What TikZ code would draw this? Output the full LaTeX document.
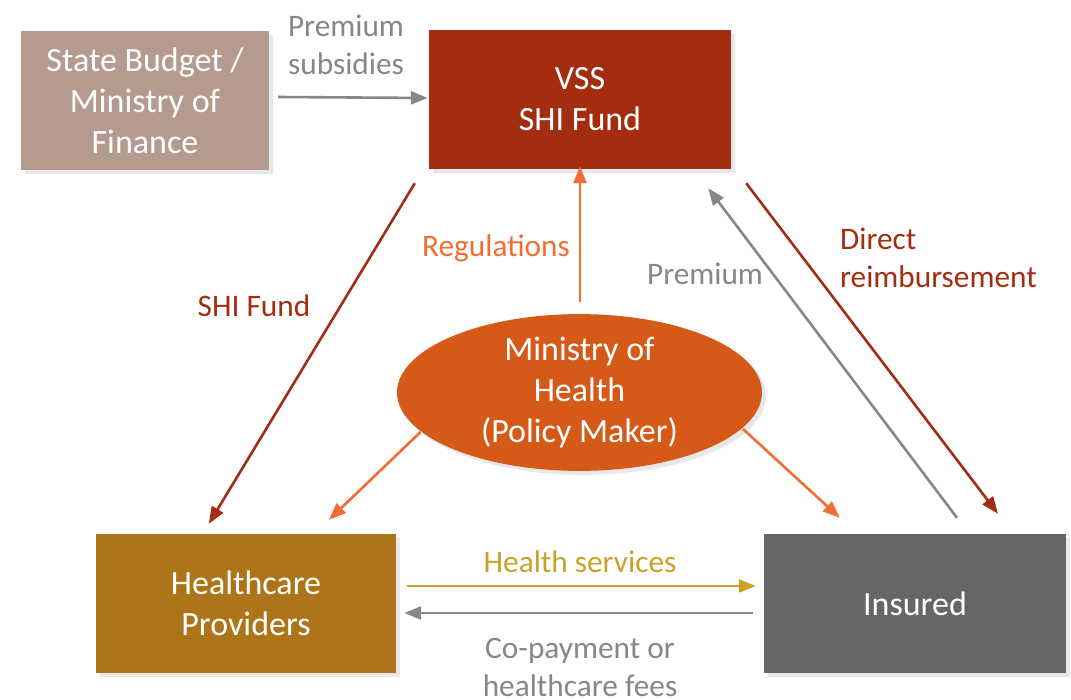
\documentclass[tikz,border=0pt]{standalone}
\usepackage{fontspec}
\setmainfont{Carlito}
\usetikzlibrary{arrows.meta,shapes.geometric,calc,shadows}
\definecolor{sbcol}{HTML}{B59A90}
\definecolor{vsscol}{HTML}{A42D10}
\definecolor{mohcol}{HTML}{D55A18}
\definecolor{hpcol}{HTML}{AD7419}
\definecolor{inscol}{HTML}{666666}
\definecolor{orangearr}{HTML}{F26D30}
\definecolor{goldarr}{HTML}{C9A227}
\definecolor{grayarr}{HTML}{878787}
\definecolor{redarr}{HTML}{A32D10}
\begin{document}
\begin{tikzpicture}[x=1pt,y=-1pt,
  boxnode/.style={rectangle,inner sep=0pt,text=white,align=center,
    font=\fontsize{34}{41}\selectfont,
    drop shadow={opacity=0.18,shadow xshift=4pt,shadow yshift=-4pt}},
  lbl/.style={inner sep=0pt,align=center,font=\fontsize{31.3}{38}\selectfont},
  arr/.style={line width=2.6pt,-{Triangle[length=17pt,width=13pt]}},
]
\useasboundingbox (0,0) rectangle (1071,700);
\fill[white] (0,0) rectangle (1071,700);

\node[boxnode,fill=sbcol,minimum width=248pt,minimum height=139pt] (sb) at (145,101) {State Budget /\\Ministry of\\Finance};
\node[boxnode,fill=vsscol,minimum width=302pt,minimum height=139pt] (vss) at (580,99.5) {VSS\\SHI Fund};
\node[boxnode,ellipse,fill=mohcol,minimum width=365pt,minimum height=139pt] (moh) at (579.5,392.5) {Ministry of\\Health\\(Policy Maker)};
\node[boxnode,fill=hpcol,minimum width=300pt,minimum height=139pt] (hp) at (246,603.5) {Healthcare\\Providers};
\node[boxnode,fill=inscol,minimum width=302pt,minimum height=139pt] (ins) at (915,603.5) {Insured};

% connectors
\draw[arr,grayarr] ($(sb.east)+(9,-4)$) -- ($(vss.west)+(-1,-1.5)$);
\draw[arr,orangearr] ($(moh.north)+(0.5,-12)$) -- ($(vss.south)+(0,-3)$);
\draw[arr,redarr] ($(vss.south west)+(-14,14)$) -- ($(hp.north west)+(113,-10)$);
\draw[arr,orangearr] ($(moh.center)+(-159,39.5)$) -- ($(hp.north)+(83,-14)$);
\draw[arr,orangearr] ($(moh.center)+(163.5,36.5)$) -- ($(ins.north west)+(76,-16)$);
\draw[arr,grayarr] ($(ins.north)+(42,-16)$) -- ($(vss.south east)+(-23,19)$);
\draw[arr,redarr] ($(vss.south east)+(15,14)$) -- ($(ins.north)+(83,-20)$);
\draw[arr,goldarr] ($(hp.east)+(11,-17.5)$) -- ($(ins.west)+(-8,-17.5)$);
\draw[arr,grayarr] ($(ins.west)+(-11,9.5)$) -- ($(hp.east)+(8,9.5)$);

% labels
\node[lbl,text=grayarr] (l1) at (346,45) {Premium\\subsidies};
\node[lbl,text=orangearr] (l2) at (496,248) {Regulations};
\node[lbl,text=redarr] (l3) at (254,306) {SHI Fund};
\node[lbl,text=grayarr] (l4) at (705,274) {Premium};
\node[lbl,text=redarr,align=left,anchor=west] (l5) at (840,258) {Direct\\reimbursement};
\node[lbl,text=goldarr] (l6) at (580,562) {Health services};
\node[lbl,text=grayarr] (l7) at (580,667) {Co-payment or\\healthcare fees};
\end{tikzpicture}
\end{document}
